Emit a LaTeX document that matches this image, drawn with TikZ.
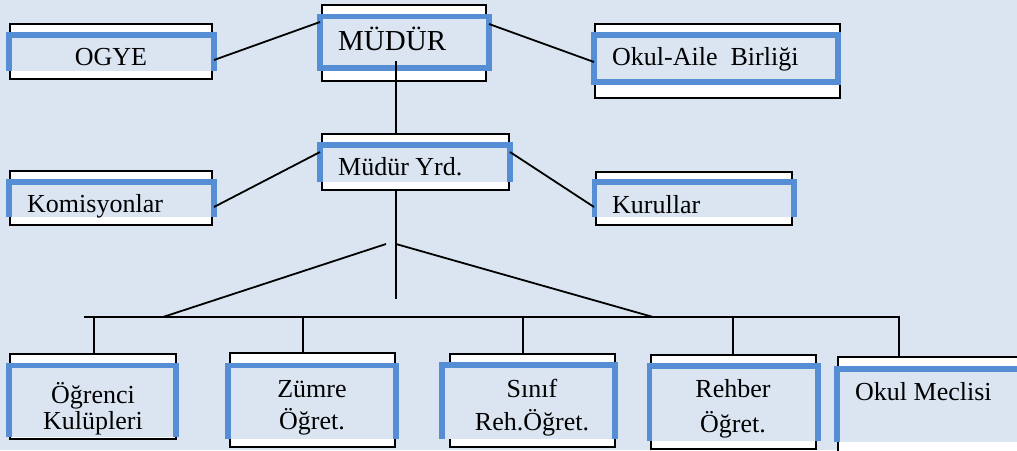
\documentclass[tikz,border=0pt]{standalone}
\usepackage{fontspec}
\setmainfont{Liberation Serif}
\usetikzlibrary{fit}
\definecolor{bgc}{HTML}{DBE5F1}
\definecolor{bluec}{HTML}{558ED5}
\newcommand{\orgframe}[9]{%
  % #1 name, #2 x1, #3 y1, #4 x2, #5 y2 (black frame), #6 blue left, #7 blue right, #8 blue top, #9 fill bottom
  \node[frame, fit={(#2,#3)(#4,#5)}] (#1) {};
  \fill[bgc] (#6,#8) rectangle (#7,#9);
  \draw[blueside] (#6,#9) -- (#6,#8) -- (#7,#8) -- (#7,#9);
}
\begin{document}
\begin{tikzpicture}[x=1pt,y=-1pt,
  frame/.style={draw=black,line width=1.8pt,fill=white,inner sep=0pt,outer sep=0pt},
  blueside/.style={draw=bluec,line width=5.5pt,line join=miter},
  link/.style={draw=black,line width=1.8pt},
  lbl/.style={inner sep=0pt,font=\fontsize{26}{32}\selectfont},
  biglbl/.style={inner sep=0pt,font=\fontsize{29}{34}\selectfont}]
\fill[bgc] (0,0) rectangle (1017,450);
\useasboundingbox (0,0) rectangle (1017,450);
\clip (0,0) rectangle (1017,450);

% top row
\orgframe{ogye}{10}{24}{212}{79}{9}{214}{35}{71}
\node[frame, fit={(322,5)(486,81)}] (mudur) {};
\fill[bgc] (320,16.5) rectangle (489,68);
\draw[blueside] (320,16.5) rectangle (489,68);
\node[frame, fit={(595,24)(840,98)}] (okulaile) {};
\fill[bgc] (594,35) rectangle (838,82);
\draw[blueside] (594,35) rectangle (838,82);

% second row
\orgframe{yrd}{322}{134}{509}{190}{320}{510}{145}{182}
\orgframe{komisyon}{10}{171}{212}{225}{9}{214}{182}{217}
\orgframe{kurul}{596}{172}{792}{225}{594.5}{794}{182}{217}

% bottom row
\orgframe{ogrenci}{10}{354}{176}{439}{9}{176}{365.5}{437}
\orgframe{zumre}{230}{353}{395}{447}{228}{396}{365.5}{439}
\orgframe{sinif}{450}{354}{615}{447}{442}{615}{365}{439}
\orgframe{rehber}{651}{355}{816}{449}{649.5}{818}{366}{441}
\orgframe{meclis}{838}{357}{1040}{470}{837}{1040}{369}{442}

% labels
\node[lbl, anchor=base] (tOgye) at (111,65) {OGYE};
\node[biglbl, anchor=base west] (tMudur) at (338,50) {MÜDÜR};
\node[lbl, anchor=base west] (tAile) at (612,65) {Okul-Aile\ \ Birliği};
\node[lbl, anchor=base west] (tYrd) at (338,175) {Müdür Yrd.};
\node[lbl, anchor=base west] (tKom) at (27,212) {Komisyonlar};
\node[lbl, anchor=base west] (tKur) at (612,213) {Kurullar};
\node[lbl, anchor=base] (tOg1) at (93,403) {Öğrenci};
\node[lbl, anchor=base] (tOg2) at (93,429) {Kulüpleri};
\node[lbl, anchor=base] (tZu1) at (312,397) {Zümre};
\node[lbl, anchor=base] (tZu2) at (312,429) {Öğret.};
\node[lbl, anchor=base] (tSi1) at (532,397) {Sınıf};
\node[lbl, anchor=base] (tSi2) at (532,430) {Reh.Öğret.};
\node[lbl, anchor=base] (tRe1) at (733,397) {Rehber};
\node[lbl, anchor=base] (tRe2) at (733,432) {Öğret.};
\node[lbl, anchor=base west] (tMe) at (855,400) {Okul Meclisi};

% connector end points
\coordinate (ogyeR) at (214,60);
\coordinate (mudurL) at (320,22);
\coordinate (mudurR) at (489,24);
\coordinate (aileL) at (594,62);
\coordinate (mudurB) at (396,61);
\coordinate (yrdT) at (396,134);
\coordinate (yrdL) at (320,152);
\coordinate (komR) at (214,207);
\coordinate (yrdR) at (510,152);
\coordinate (kurL) at (594,207);
\coordinate (yrdB) at (396,190);
\coordinate (stemEnd) at (396,299);
\coordinate (apexL) at (386,244);
\coordinate (apexR) at (396,244);
\coordinate (fanL) at (163,317);
\coordinate (fanR) at (653,317);
\coordinate (barL) at (84,317);
\coordinate (barR) at (899,317);
\coordinate (d1) at (94,317);
\coordinate (d2) at (303,317);
\coordinate (d3) at (523,317);
\coordinate (d4) at (733,317);

\draw[link] (ogyeR) -- (mudurL);
\draw[link] (mudurR) -- (aileL);
\draw[link] (mudurB) -- (yrdT);
\draw[link] (yrdL) -- (komR);
\draw[link] (yrdR) -- (kurL);
\draw[link] (yrdB) -- (stemEnd);
\draw[link] (apexL) -- (fanL);
\draw[link] (apexR) -- (fanR);
\draw[link] (barL) -- (barR) -- (meclis.north -| barR);
\draw[link] (d1) -- (ogrenci.north -| d1);
\draw[link] (d2) -- (zumre.north -| d2);
\draw[link] (d3) -- (sinif.north -| d3);
\draw[link] (d4) -- (rehber.north -| d4);
\end{tikzpicture}
\end{document}
